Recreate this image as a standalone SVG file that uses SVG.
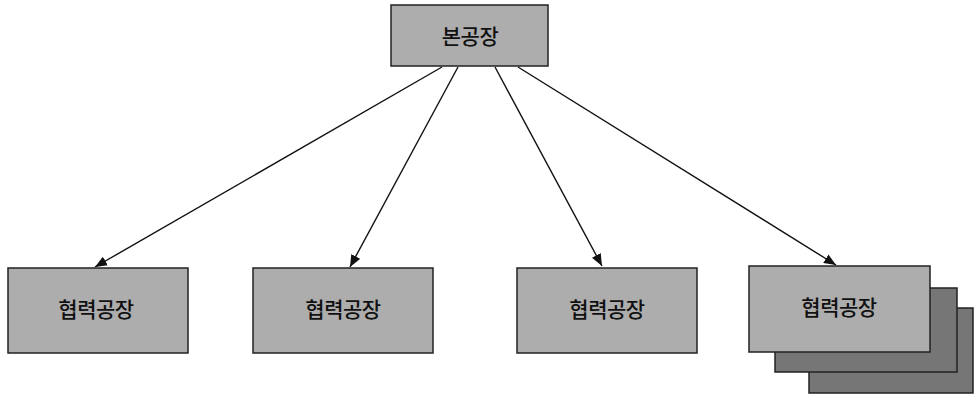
<svg xmlns="http://www.w3.org/2000/svg" width="975" height="396" viewBox="0 0 975 396">
  <style>
    .box { fill: #adadad; stroke: #222; stroke-width: 1.5; }
    .back { fill: #767676; stroke: #222; stroke-width: 1.5; }
    .lbl { font-family: "Noto Sans CJK KR", "Liberation Sans", sans-serif; font-size: 21px; font-weight: 500; fill: #111; text-anchor: middle; dominant-baseline: central; letter-spacing: -0.5px; }
    .link { stroke: #111; stroke-width: 1.4; fill: none; marker-end: url(#head); }
  </style>
  <defs>
    <marker id="head" viewBox="0 0 12 10" refX="12" refY="5" markerWidth="12" markerHeight="10" markerUnits="userSpaceOnUse" orient="auto">
      <path d="M0,0 L12,5 L0,10 Z" fill="#111"/>
    </marker>
  </defs>
  <rect width="975" height="396" fill="#fff"/>

  <g id="connectors">
    <line class="link" x1="442" y1="67" x2="95" y2="267"/>
    <line class="link" x1="458" y1="67" x2="350" y2="267"/>
    <line class="link" x1="495" y1="67" x2="602" y2="266"/>
    <line class="link" x1="518" y1="67" x2="836" y2="265"/>
  </g>

  <g id="main-plant">
    <rect class="box" x="391" y="5" width="157" height="61"/>
    <text class="lbl" x="470" y="35">본공장</text>
  </g>

  <g id="partner-1">
    <rect class="box" x="8" y="268" width="180" height="85"/>
    <text class="lbl" x="96" y="308">협력공장</text>
  </g>

  <g id="partner-2">
    <rect class="box" x="253" y="268" width="180" height="85"/>
    <text class="lbl" x="343" y="308">협력공장</text>
  </g>

  <g id="partner-3">
    <rect class="box" x="517" y="268" width="180" height="85"/>
    <text class="lbl" x="607" y="308">협력공장</text>
  </g>

  <g id="partner-4">
    <rect class="back" x="809" y="308" width="164" height="85"/>
    <rect class="back" x="775" y="288" width="182" height="84"/>
    <rect class="box" x="749" y="266" width="181" height="86"/>
    <text class="lbl" x="839" y="306">협력공장</text>
  </g>
</svg>
